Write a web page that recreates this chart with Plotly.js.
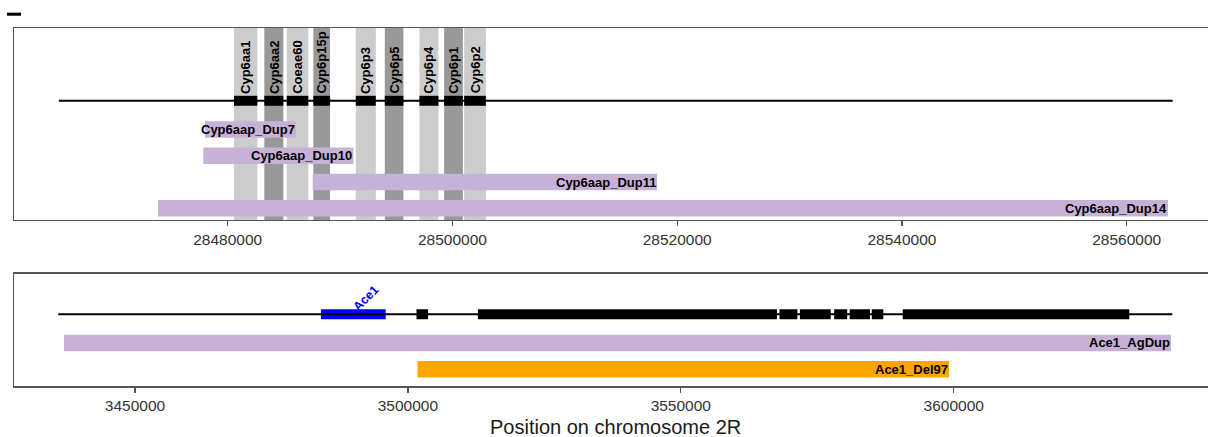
<!DOCTYPE html>
<html>
<head>
<meta charset="utf-8">
<script src="https://cdn.plot.ly/plotly-3.0.1.min.js"></script>
<style>
html,body{margin:0;padding:0;overflow:hidden;background:#fff;}
#chart{width:1222px;height:437px;}
</style>
</head>
<body>
<div id="chart"></div>
<script>
// ---------- Data: Cyp6aa/Cyp6p cluster (top panel) ----------
const cypGeneNames  = ["Cyp6aa1","Cyp6aa2","Coeae60","Cyp6p15p","Cyp6p3","Cyp6p5","Cyp6p4","Cyp6p1","Cyp6p2"];
const cypGeneStart  = [28480561,28483259,28485254,28487622,28491398,28493980,28497061,28499261,28501042];
const cypGeneEnd    = [28482636,28484951,28487177,28489110,28493179,28495637,28498753,28500926,28502974];
const cypRegion     = [28464974,28564085];
const cypDupNames   = ["Cyp6aap_Dup7","Cyp6aap_Dup10","Cyp6aap_Dup11","Cyp6aap_Dup14"];
const cypDupStart   = [28477979,28477827,28487569,28473793];
const cypDupEnd     = [28486082,28491184,28518201,28563668];
const cypTicks      = [28480000,28500000,28520000,28540000,28560000];

// ---------- Data: Ace1 region (bottom panel) ----------
const aceRegion     = [3435947,3640052];
const ace1Gene      = {name:"Ace1", start:3484079, end:3495933};
const aceExonStart  = [3501576,3512825,3568084,3571821,3578106,3580946,3584995,3590656];
const aceExonEnd    = [3503701,3567625,3571363,3577464,3580487,3584665,3587102,3632173];
const aceCnvNames   = ["Ace1_AgDup","Ace1_Del97"];
const aceCnvStart   = [3436992,3501759];
const aceCnvEnd     = [3639813,3599139];
const aceCnvType    = ["dup","del"];
const aceTicks      = [3450000,3500000,3550000,3600000];

// ---------- Styles ----------
const FONT = "Liberation Sans, Arial, Helvetica, sans-serif";
const PURPLE = "#c8b1d6", ORANGE = "#ffa500", LIGHT = "#cccccc", DARK = "#999999";
const FRAME = "#555555";
const GENE_Y = 1.1, BAR_W = 0.63, EXON_W = 0.38;

const traces = [];
const shapes = [];
const annotations = [];

// top panel gene line
traces.push({type:"scatter", mode:"lines", x:cypRegion, y:[GENE_Y,GENE_Y], xaxis:"x", yaxis:"y",
  line:{color:"#000", width:2}, hoverinfo:"skip", showlegend:false});
// shaded columns for genes
cypGeneNames.forEach((g,i)=>{
  shapes.push({type:"rect", xref:"x", yref:"y domain", x0:cypGeneStart[i], x1:cypGeneEnd[i], y0:0, y1:1,
    fillcolor: i%2===0 ? LIGHT : DARK, line:{width:0}, layer:"below"});
  annotations.push({xref:"x", yref:"y", x:(cypGeneStart[i]+cypGeneEnd[i])/2, y:GENE_Y,
    text:"<b>"+g+"</b>", textangle:-90, showarrow:false, xanchor:"center", yanchor:"bottom", yshift:6,
    font:{family:FONT, size:13, color:"#000"}, borderpad:0});
});
// gene boxes
traces.push({type:"bar", orientation:"h", xaxis:"x", yaxis:"y",
  y:cypGeneNames.map(()=>GENE_Y), base:cypGeneStart, x:cypGeneStart.map((s,i)=>cypGeneEnd[i]-s),
  width:EXON_W, marker:{color:"#000", line:{width:0}}, hoverinfo:"skip", showlegend:false});
// dup bars
const cypRows = cypDupNames.map((_,i)=>-i);
traces.push({type:"bar", orientation:"h", xaxis:"x", yaxis:"y",
  y:cypRows, base:cypDupStart, x:cypDupStart.map((s,i)=>cypDupEnd[i]-s),
  width:BAR_W, marker:{color:PURPLE, line:{width:0}}, hoverinfo:"skip", showlegend:false});
cypDupNames.forEach((d,i)=>{
  annotations.push({xref:"x", yref:"y", x:cypDupEnd[i], y:cypRows[i], text:"<b>"+d+"</b>",
    showarrow:false, xanchor:"right", yanchor:"middle", font:{family:FONT, size:13, color:"#000"}, borderpad:0});
});

// bottom panel gene line
traces.push({type:"scatter", mode:"lines", x:aceRegion, y:[GENE_Y,GENE_Y], xaxis:"x2", yaxis:"y2",
  line:{color:"#000", width:2}, hoverinfo:"skip", showlegend:false});
traces.push({type:"bar", orientation:"h", xaxis:"x2", yaxis:"y2",
  y:aceExonStart.map(()=>GENE_Y), base:aceExonStart, x:aceExonStart.map((s,i)=>aceExonEnd[i]-s),
  width:EXON_W, marker:{color:"#000", line:{width:0}}, hoverinfo:"skip", showlegend:false});
traces.push({type:"bar", orientation:"h", xaxis:"x2", yaxis:"y2",
  y:[GENE_Y], base:[ace1Gene.start], x:[ace1Gene.end-ace1Gene.start],
  width:EXON_W, marker:{color:"#0000ff", line:{width:0}}, hoverinfo:"skip", showlegend:false});
annotations.push({xref:"x2", yref:"y2", x:(ace1Gene.start+ace1Gene.end)/2, y:GENE_Y,
  text:"<b>"+ace1Gene.name+"</b>", textangle:-45, showarrow:false, xanchor:"left", yanchor:"bottom",
  yshift:-1, xshift:-4,
  font:{family:FONT, size:12.5, color:"#0000ff"}, borderpad:0});
const aceRows = aceCnvNames.map((_,i)=>-i);
traces.push({type:"bar", orientation:"h", xaxis:"x2", yaxis:"y2",
  y:aceRows, base:aceCnvStart, x:aceCnvStart.map((s,i)=>aceCnvEnd[i]-s),
  width:BAR_W, marker:{color:aceCnvType.map(t=>t==="dup"?PURPLE:ORANGE), line:{width:0}},
  hoverinfo:"skip", showlegend:false});
aceCnvNames.forEach((d,i)=>{
  annotations.push({xref:"x2", yref:"y2", x:aceCnvEnd[i], y:aceRows[i], text:"<b>"+d+"</b>",
    showarrow:false, xanchor:"right", yanchor:"middle", font:{family:FONT, size:13, color:"#000"}, borderpad:0});
});

// axis title
annotations.push({xref:"paper", yref:"paper", x:0.5, y:0.024, xanchor:"center", yanchor:"middle",
  text:"Position on chromosome 2R", showarrow:false, font:{family:FONT, size:20, color:"#1a1a1a"}, borderpad:0});

// small mark at top-left (remnant of a title)
shapes.push({type:"rect", xref:"paper", yref:"paper", x0:-0.0058, x1:0.0058, y0:0.964, y1:0.971,
  fillcolor:"#000", line:{width:0}});

const xCommon = {showgrid:false, zeroline:false, showline:true, mirror:true, linecolor:FRAME, linewidth:1.3,
  ticks:"outside", ticklen:5, tickwidth:1.2, tickcolor:FRAME, tickformat:"d",
  tickfont:{family:FONT, size:15.5, color:"#333333"}, fixedrange:true};
const yCommon = {showgrid:false, zeroline:false, showline:true, mirror:true, linecolor:FRAME, linewidth:1.3,
  showticklabels:false, ticks:"", fixedrange:true};

const layout = {
  width:1222, height:437,
  margin:{l:14, r:6, t:0, b:0},
  paper_bgcolor:"#fff", plot_bgcolor:"#fff",
  barmode:"overlay", showlegend:false,
  xaxis: Object.assign({}, xCommon, {anchor:"y", range:[28460984,28567946], tickmode:"array", tickvals:cypTicks,
    ticktext:cypTicks.map(String)}),
  yaxis: Object.assign({}, yCommon, {anchor:"x", domain:[0.4966,0.9359], range:[-3.45,3.878]}),
  xaxis2: Object.assign({}, xCommon, {anchor:"y2", range:[3427831,3648058], tickmode:"array", tickvals:aceTicks,
    ticktext:aceTicks.map(String)}),
  yaxis2: Object.assign({}, yCommon, {anchor:"x2", domain:[0.1156,0.3741], range:[-1.66,2.65]}),
  shapes:shapes, annotations:annotations
};

Plotly.newPlot("chart", traces, layout, {staticPlot:true, displayModeBar:false});
</script>
</body>
</html>
